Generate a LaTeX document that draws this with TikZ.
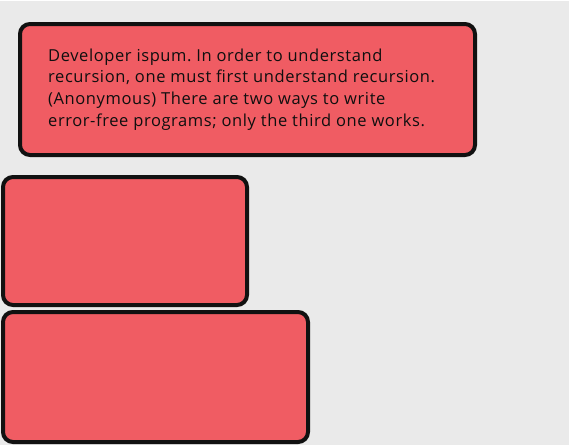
\documentclass[tikz,border=0pt]{standalone}
\usepackage{fontspec}
\setmainfont[LetterSpace=3.6]{Open Sans}
\frenchspacing
\definecolor{bg}{RGB}{234,234,234}
\definecolor{boxfill}{RGB}{240,92,99}
\definecolor{boxline}{RGB}{17,17,17}
\definecolor{txt}{RGB}{15,15,15}
\begin{document}
\begin{tikzpicture}[x=1pt,y=-1pt,
  card/.style={draw=boxline,fill=boxfill,line width=4pt,rounded corners=10pt},
  line/.style={anchor=base west,inner sep=0pt,text=txt,font=\fontsize{16.5}{20}\selectfont}]
\fill[bg] (0,0) rectangle (569,445);
\fill[white] (0,0) rectangle (569,1);
\useasboundingbox (0,0) rectangle (569,445);
\draw[card] (20,24) rectangle (475,155);
\draw[card] (3,177) rectangle (247,305);
\draw[card] (3,312) rectangle (308,442);
\node[line] (l1) at (48,61) {Developer ispum. In order to understand};
\node[line] (l2) at (48,82.7) {recursion, one must first understand recursion.};
\node[line] (l3) at (48,104.3) {(Anonymous) There are two ways to write};
\node[line] (l4) at (48,126) {error-free programs; only the third one works.};
\end{tikzpicture}
\end{document}
